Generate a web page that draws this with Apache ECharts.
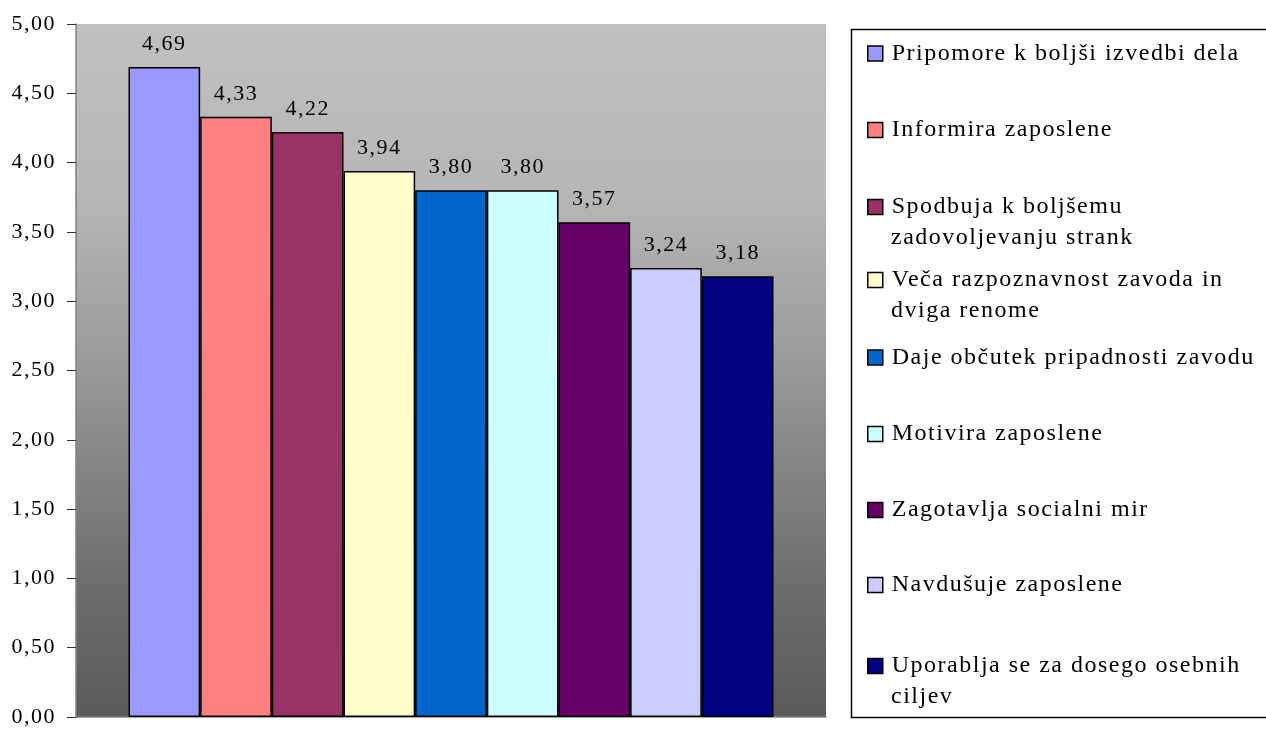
<!DOCTYPE html>
<html>
<head>
<meta charset="utf-8">
<script src="https://cdn.jsdelivr.net/npm/echarts@6/dist/echarts.min.js"></script>
<style>
  html, body { margin: 0; padding: 0; background: #fff; }
  #chart { width: 1266px; height: 731px; }
</style>
</head>
<body>
<div id="chart"></div>
<script>
// Ocena učinkov (povprečne ocene)
const seriesNames = [
  'Pripomore k boljši izvedbi dela',
  'Informira zaposlene',
  'Spodbuja k boljšemu\nzadovoljevanju strank',
  'Veča razpoznavnost zavoda in\ndviga renome',
  'Daje občutek pripadnosti zavodu',
  'Motivira zaposlene',
  'Zagotavlja socialni mir',
  'Navdušuje zaposlene',
  'Uporablja se za dosego osebnih\nciljev'
];
const seriesValues = [4.69, 4.33, 4.22, 3.94, 3.80, 3.80, 3.57, 3.24, 3.18];
const seriesColors = ['#9999ff', '#ff8080', '#993366', '#ffffcc', '#0066cc', '#ccffff', '#660066', '#ccccff', '#000080'];
const yTicks = { min: 0, max: 5, step: 0.5 };

const FONT = 'Liberation Serif';
const fmt = v => Number(v).toFixed(2).replace('.', ',');

// slightly loose tracking for all canvas text (applied whenever a font is set)
(function () {
  const proto = CanvasRenderingContext2D.prototype;
  const desc = Object.getOwnPropertyDescriptor(proto, 'font');
  if (desc && 'letterSpacing' in proto) {
    Object.defineProperty(proto, 'font', {
      configurable: true,
      get() { return desc.get.call(this); },
      set(v) { desc.set.call(this, v); this.letterSpacing = '1.5px'; }
    });
  }
})();

const chart = echarts.init(document.getElementById('chart'), null, { renderer: 'canvas' });

// legend: one component per text line; the marker sits on the first line of each entry
const LINE_H = 31;
const legendCenters = [53.5, 130, 207, 280, 357.5, 434, 510, 585, 666];
const legendText = {
  fontFamily: FONT,
  fontSize: 24,
  color: '#000',
  lineHeight: LINE_H,
  padding: [0, 0, 0, 4]
};
const legends = [];
seriesNames.forEach((name, i) => {
  const lines = name.split('\n');
  lines.forEach((line, k) => {
    legends.push({
      left: 867,
      top: legendCenters[i] + k * LINE_H - LINE_H / 2,
      orient: 'vertical',
      padding: 0,
      itemWidth: 15,
      itemHeight: 15,
      icon: k === 0 ? 'rect' : 'none',
      selectedMode: false,
      data: [{ name: name }],
      formatter: () => line,
      itemStyle: { borderColor: '#000', borderWidth: 1.5 },
      textStyle: legendText
    });
  });
});

const series = seriesNames.map((name, i) => ({
  name: name,
  type: 'bar',
  data: [seriesValues[i]],
  barGap: '0%',
  barCategoryGap: '14%',
  itemStyle: { color: seriesColors[i], borderColor: '#000', borderWidth: 1.5 },
  label: {
    show: true,
    position: 'top',
    distance: 13,
    fontFamily: FONT,
    fontSize: 22,
    lineHeight: 20,
    color: '#000',
    formatter: p => fmt(p.value)
  },
  emphasis: { disabled: true }
}));

chart.setOption({
  animation: false,
  backgroundColor: '#fff',
  grid: {
    left: 76, right: 440, top: 24, bottom: 14,
    show: true,
    borderWidth: 0,
    backgroundColor: new echarts.graphic.LinearGradient(0, 0, 0, 1, [
      { offset: 0, color: '#c0c0c0' },
      { offset: 0.25, color: '#b6b6b6' },
      { offset: 0.46, color: '#9e9e9e' },
      { offset: 0.8, color: '#6e6e6e' },
      { offset: 1, color: '#5a5a5a' }
    ])
  },
  legend: legends,
  xAxis: {
    type: 'category',
    data: [''],
    axisLine: { show: true, lineStyle: { color: '#808080', width: 1.5 } },
    axisTick: { show: false },
    axisLabel: { show: false },
    splitLine: { show: false }
  },
  yAxis: {
    type: 'value',
    min: yTicks.min,
    max: yTicks.max,
    interval: yTicks.step,
    axisLine: { show: true, lineStyle: { color: '#808080', width: 1.5 } },
    axisTick: { show: true, length: 9, lineStyle: { color: '#333' } },
    axisLabel: {
      fontFamily: FONT,
      fontSize: 22,
      color: '#000',
      margin: 20,
      formatter: v => fmt(v)
    },
    splitLine: { show: false }
  },
  graphic: [{
    type: 'rect',
    silent: true,
    z: -1,
    shape: { x: 851.5, y: 29.5, width: 460, height: 688 },
    style: { fill: 'none', stroke: '#000', lineWidth: 1.5 }
  }],
  series: series
});
</script>
</body>
</html>
